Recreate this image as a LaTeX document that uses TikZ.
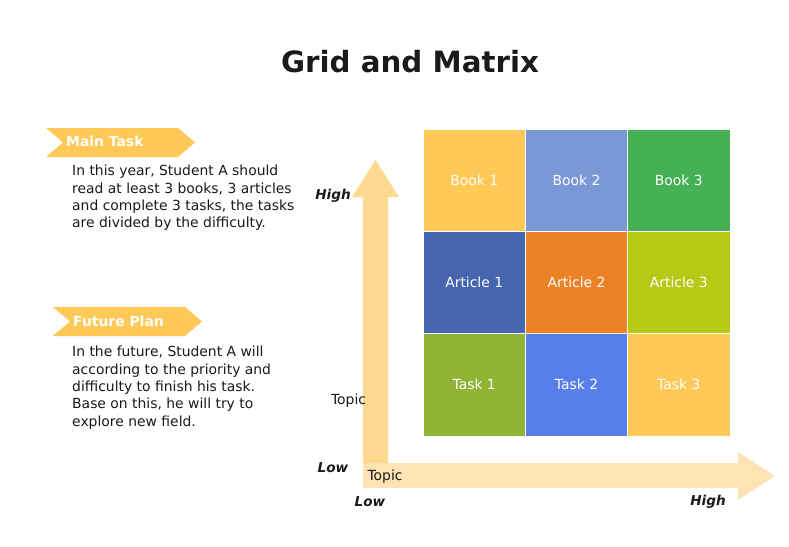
\documentclass[tikz,border=0pt]{standalone}
\usepackage{fontspec}
\setmainfont{DejaVu Sans}
\definecolor{bannerYellow}{HTML}{FFC957}
\definecolor{axisUp}{HTML}{FFD98F}
\definecolor{axisRight}{HTML}{FFE3B5}
\definecolor{bookTwo}{HTML}{7B98D6}
\definecolor{bookThree}{HTML}{45B154}
\definecolor{articleOne}{HTML}{4566AE}
\definecolor{articleTwo}{HTML}{EB8226}
\definecolor{articleThree}{HTML}{B8C816}
\definecolor{taskOne}{HTML}{8FB334}
\definecolor{taskTwo}{HTML}{587EEA}
\definecolor{bodyText}{HTML}{1A1A1A}
\tikzset{
  cell/.style={draw=white, line width=0.8pt, minimum size=102.3pt, inner sep=0pt,
    text=white, font=\fontsize{13.9}{16}\selectfont},
  bannertext/.style={anchor=west, inner sep=0pt, text=white,
    font=\fontsize{13.9}{16}\selectfont\bfseries},
  bodytext/.style={anchor=north west, inner sep=0pt, align=left, text=bodyText,
    font=\fontsize{13.9}{17.4}\selectfont},
  axislabel/.style={inner sep=0pt, text=bodyText,
    font=\fontsize{13.6}{16}\selectfont\bfseries\itshape},
  topiclabel/.style={inner sep=0pt, text=bodyText, font=\fontsize{13.9}{16}\selectfont}
}
\begin{document}
\begin{tikzpicture}[x=1pt, y=-1pt]
    \useasboundingbox (0,0) rectangle (789,546);
    \node[text=bodyText, font=\fontsize{29.3}{32}\selectfont\bfseries] (title) at (410,62) {Grid and Matrix};
    % banners and notes
    \fill[bannerYellow] (46,128) -- (178,128) -- (195,142.5) -- (178,157) -- (46,157) -- (63,142.5) -- cycle;
    \node[bannertext] (mainTask) at (66,141.5) {Main Task};
    \node[bodytext] (mainNote) at (72,165) {In this year, Student A should\\read at least 3 books, 3 articles\\and complete 3 tasks, the tasks\\are divided by the difficulty.};
    \fill[bannerYellow] (52.7,307) -- (185,307) -- (202,321.5) -- (185,336) -- (52.7,336) -- (70,321.5) -- cycle;
    \node[bannertext] (futurePlan) at (73,321.5) {Future Plan};
    \node[bodytext] (futureNote) at (72,346) {In the future, Student A will\\according to the priority and\\difficulty to finish his task.\\Base on this, he will try to\\explore new field.};
    % axes
    \fill[axisRight] (363,463) -- (738,463) -- (738,452) -- (775,476) -- (738,500) -- (738,488) -- (363,488) -- cycle;
    \fill[axisUp] (363,463) -- (363,197) -- (352,197) -- (375.5,160) -- (399,197) -- (388,197) -- (388,463) -- cycle;
    \node[axislabel] (yHigh) at (333,196) {High};
    \node[axislabel] (yLow) at (333,468) {Low};
    \node[topiclabel] (yTopic) at (348.5,401) {Topic};
    \node[topiclabel] (xTopic) at (385,477) {Topic};
    \node[axislabel] (xLow) at (370,502) {Low};
    \node[axislabel] (xHigh) at (708,502) {High};
    % matrix
    \def\x{102.3}
    \def\y{102.3}
    \node[cell, fill=bannerYellow] (A0_0) at (474.2+0*\x, 180.2+0*\y) {Book 1};
    \node[cell, fill=bookTwo] (A0_1) at (474.2+1*\x, 180.2+0*\y) {Book 2};
    \node[cell, fill=bookThree] (A0_2) at (474.2+2*\x, 180.2+0*\y) {Book 3};
    \node[cell, fill=articleOne] (A1_0) at (474.2+0*\x, 180.2+1*\y) {Article 1};
    \node[cell, fill=articleTwo] (A1_1) at (474.2+1*\x, 180.2+1*\y) {Article 2};
    \node[cell, fill=articleThree] (A1_2) at (474.2+2*\x, 180.2+1*\y) {Article 3};
    \node[cell, fill=taskOne] (A2_0) at (474.2+0*\x, 180.2+2*\y) {Task 1};
    \node[cell, fill=taskTwo] (A2_1) at (474.2+1*\x, 180.2+2*\y) {Task 2};
    \node[cell, fill=bannerYellow] (A2_2) at (474.2+2*\x, 180.2+2*\y) {Task 3};
  \end{tikzpicture}
\end{document}
